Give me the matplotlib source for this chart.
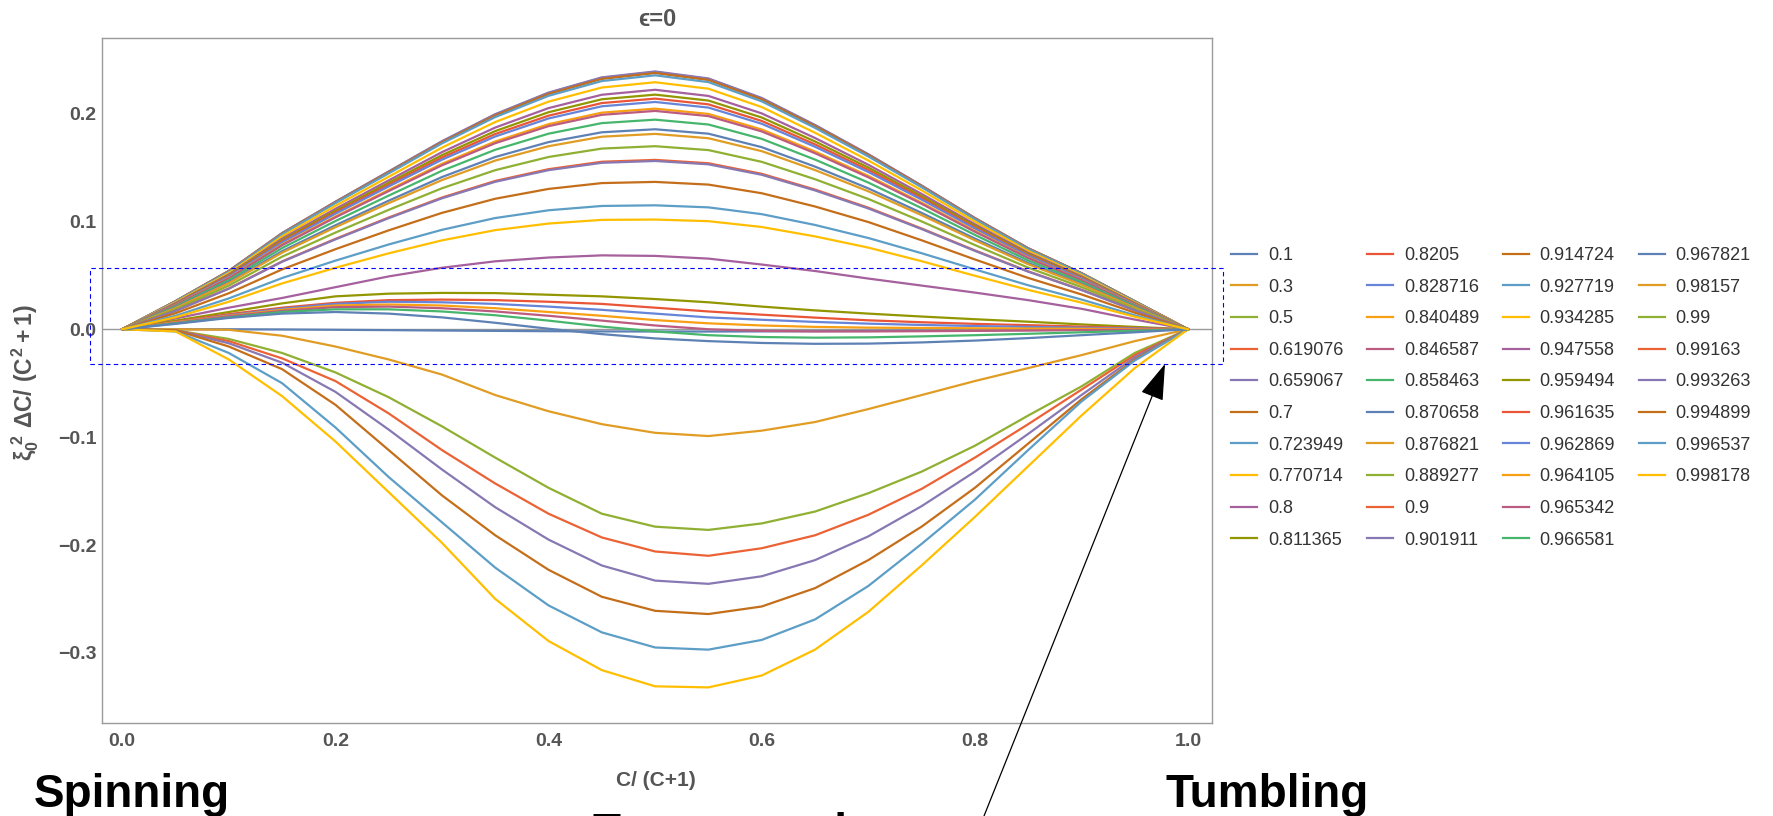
import matplotlib
matplotlib.use("Agg")
import matplotlib.pyplot as plt
from matplotlib.patches import Rectangle, FancyArrowPatch
from matplotlib.lines import Line2D

plt.rcParams['font.family'] = ['Liberation Sans', 'DejaVu Sans']
plt.rcParams['mathtext.fontset'] = 'custom'
plt.rcParams['mathtext.rm'] = 'Liberation Sans:bold'
plt.rcParams['mathtext.it'] = 'Liberation Sans:bold'
plt.rcParams['mathtext.bf'] = 'Liberation Sans:bold'

# eixo x: C/(C+1)
xs = [0.0, 0.05, 0.1, 0.15, 0.2, 0.25, 0.3, 0.35, 0.4, 0.45, 0.5,
      0.55, 0.6, 0.65, 0.7, 0.75, 0.8, 0.85, 0.9, 0.95, 1.0]

params = ["0.1", "0.3", "0.5", "0.619076", "0.659067", "0.7", "0.723949", "0.770714", "0.8", "0.811365",
          "0.8205", "0.828716", "0.840489", "0.846587", "0.858463", "0.870658", "0.876821", "0.889277", "0.9", "0.901911",
          "0.914724", "0.927719", "0.934285", "0.947558", "0.959494", "0.961635", "0.962869", "0.964105", "0.965342", "0.966581",
          "0.967821", "0.98157", "0.99", "0.99163", "0.993263", "0.994899", "0.996537", "0.998178"]

# curvas negativas (0.1 ... 0.770714)
y_neg = [
    [0, 0, 0, -0.0002, -0.0005, -0.0008, -0.0012, -0.0015, -0.0018, -0.002, -0.0021, -0.0021, -0.002, -0.0018, -0.0016, -0.0013, -0.001, -0.0008, -0.0005, -0.0002, 0],
    [0, 0, -0.0005, -0.006, -0.016, -0.028, -0.042, -0.061, -0.076, -0.088, -0.096, -0.099, -0.094, -0.086, -0.074, -0.061, -0.048, -0.036, -0.024, -0.011, 0],
    [0, -0.001, -0.009, -0.022, -0.040, -0.063, -0.090, -0.119, -0.147, -0.171, -0.183, -0.186, -0.180, -0.169, -0.152, -0.132, -0.108, -0.080, -0.053, -0.022, 0],
    [0, -0.001, -0.011, -0.027, -0.048, -0.078, -0.112, -0.143, -0.171, -0.193, -0.206, -0.210, -0.203, -0.191, -0.172, -0.148, -0.119, -0.088, -0.056, -0.024, 0],
    [0, -0.001, -0.013, -0.031, -0.058, -0.093, -0.130, -0.165, -0.195, -0.219, -0.233, -0.236, -0.229, -0.214, -0.192, -0.164, -0.132, -0.097, -0.061, -0.026, 0],
    [0, -0.001, -0.016, -0.037, -0.070, -0.112, -0.154, -0.191, -0.223, -0.248, -0.261, -0.264, -0.257, -0.240, -0.214, -0.183, -0.147, -0.106, -0.065, -0.028, 0],
    [0, -0.002, -0.022, -0.050, -0.091, -0.137, -0.179, -0.221, -0.256, -0.281, -0.295, -0.297, -0.288, -0.269, -0.238, -0.199, -0.158, -0.112, -0.067, -0.029, 0],
    [0, -0.002, -0.028, -0.062, -0.104, -0.151, -0.198, -0.250, -0.289, -0.316, -0.331, -0.332, -0.321, -0.297, -0.262, -0.219, -0.174, -0.127, -0.080, -0.036, 0],
]

# curvas perto de zero (0.8 ... 0.870658)
y_mid = [
    [0, 0.010, 0.020, 0.029, 0.039, 0.049, 0.057, 0.063, 0.0665, 0.0685, 0.068, 0.0655, 0.060, 0.054, 0.047, 0.0405, 0.034, 0.027, 0.019, 0.009, 0],
    [0, 0.008, 0.016, 0.024, 0.0305, 0.033, 0.0337, 0.0335, 0.032, 0.0305, 0.028, 0.025, 0.021, 0.0175, 0.0145, 0.0118, 0.0093, 0.007, 0.0045, 0.0022, 0],
    [0, 0.007, 0.014, 0.020, 0.0245, 0.027, 0.0275, 0.027, 0.0255, 0.0235, 0.020, 0.0165, 0.0135, 0.0108, 0.0083, 0.0065, 0.0050, 0.0038, 0.0025, 0.0012, 0],
    [0, 0.0065, 0.013, 0.019, 0.0235, 0.0255, 0.025, 0.0235, 0.021, 0.018, 0.0145, 0.011, 0.0088, 0.0068, 0.0052, 0.0040, 0.0030, 0.0022, 0.0014, 0.0007, 0],
    [0, 0.0065, 0.0125, 0.018, 0.022, 0.023, 0.022, 0.0195, 0.016, 0.0125, 0.0085, 0.0055, 0.0035, 0.0022, 0.0015, 0.0012, 0.0009, 0.0007, 0.0005, 0.0002, 0],
    [0, 0.006, 0.012, 0.017, 0.0205, 0.021, 0.0195, 0.0165, 0.0125, 0.008, 0.0035, 0.0, -0.0015, -0.002, -0.002, -0.0018, -0.0015, -0.0012, -0.0008, -0.0004, 0],
    [0, 0.0055, 0.011, 0.016, 0.0185, 0.0185, 0.0165, 0.013, 0.008, 0.0025, -0.002, -0.0055, -0.0072, -0.0078, -0.0075, -0.0066, -0.0055, -0.0042, -0.0028, -0.0014, 0],
    [0, 0.005, 0.0105, 0.0145, 0.016, 0.0145, 0.011, 0.006, 0.0005, -0.0045, -0.0085, -0.011, -0.0127, -0.0135, -0.0133, -0.0122, -0.0105, -0.0082, -0.0055, -0.0028, 0],
]

# curvas positivas (0.876821 ... 0.998178)
y_pos = [
    [0, .0259, .0539, .0888, .1178, .1457, .1737, .1986, .2186, .2325, .2380, .2315, .2136, .1886, .1617, .1327, .1028, .0749, .0519, .0259, 0],
    [0, .0260, .0539, .0889, .1179, .1459, .1738, .1988, .2188, .2328, .2383, .2318, .2138, .1888, .1618, .1329, .1029, .0749, .0519, .0260, 0],
    [0, .0260, .0540, .0890, .1180, .1460, .1740, .1990, .2190, .2330, .2385, .2320, .2140, .1890, .1620, .1330, .1030, .0750, .0520, .0260, 0],
    [0, .0261, .0541, .0892, .1182, .1463, .1743, .1994, .2194, .2335, .2390, .2325, .2144, .1894, .1623, .1333, .1032, .0752, .0521, .0261, 0],
    [0, .0259, .0538, .0886, .1175, .1454, .1733, .1982, .2181, .2321, .2375, .2311, .2131, .1882, .1614, .1325, .1026, .0747, .0518, .0259, 0],
    [0, .0257, .0533, .0880, .1169, .1445, .1723, .1967, .2164, .2301, .2354, .2291, .2113, .1867, .1602, .1317, .1020, .0742, .0515, .0257, 0],
    [0, .0250, .0521, .0861, .1144, .1414, .1684, .1921, .2110, .2241, .2290, .2230, .2060, .1822, .1565, .1288, .0998, .0726, .0503, .0250, 0],
    [0, .0242, .0508, .0840, .1116, .1380, .1642, .1870, .2050, .2174, .2220, .2163, .2001, .1773, .1525, .1255, .0974, .0709, .0491, .0243, 0],
    [0, .0237, .0500, .0826, .1098, .1358, .1614, .1837, .2012, .2132, .2175, .2120, .1963, .1741, .1499, .1234, .0958, .0698, .0482, .0239, 0],
    [0, .0233, .0493, .0815, .1083, .1339, .1592, .1810, .1980, .2097, .2138, .2085, .1931, .1714, .1477, .1217, .0945, .0689, .0476, .0235, 0],
    [0, .0230, .0487, .0805, .1071, .1324, .1572, .1787, .1954, .2067, .2107, .2055, .1905, .1692, .1458, .1202, .0934, .0681, .0470, .0232, 0],
    [0, .0223, .0475, .0786, .1045, .1292, .1534, .1741, .1901, .2008, .2045, .1996, .1852, .1648, .1422, .1173, .0912, .0665, .0458, .0225, 0],
    [0, .0221, .0471, .0779, .1037, .1281, .1520, .1725, .1883, .1988, .2024, .1976, .1834, .1632, .1409, .1163, .0904, .0660, .0455, .0223, 0],
    [0, .0212, .0455, .0753, .1003, .1239, .1469, .1664, .1813, .1911, .1943, .1898, .1765, .1573, .1360, .1123, .0875, .0638, .0439, .0215, 0],
    [0, .0202, .0437, .0724, .0964, .1192, .1411, .1597, .1735, .1826, .1854, .1813, .1688, .1508, .1306, .1079, .0841, .0615, .0422, .0206, 0],
    [0, .0197, .0428, .0710, .0946, .1169, .1383, .1564, .1697, .1785, .1811, .1771, .1651, .1476, .1279, .1058, .0825, .0603, .0414, .0201, 0],
    [0, .0185, .0405, .0673, .0896, .1107, .1307, .1475, .1597, .1675, .1697, .1661, .1552, .1391, .1208, .1000, .0781, .0571, .0391, .0189, 0],
    [0, .0171, .0378, .0629, .0838, .1036, .1221, .1375, .1484, .1553, .1570, .1539, .1441, .1295, .1127, .0934, .0731, .0537, .0366, .0176, 0],
    [0, .0170, .0376, .0626, .0833, .1030, .1214, .1367, .1475, .1543, .1560, .1529, .1432, .1287, .1120, .0929, .0727, .0534, .0364, .0175, 0],
    [0, .0149, .0334, .0555, .0742, .0917, .1079, .1210, .1301, .1355, .1366, .1341, .1261, .1138, .0994, .0825, .0647, .0476, .0323, .0154, 0],
    [0, .0125, .0286, .0475, .0636, .0786, .0922, .1031, .1103, .1143, .1149, .1130, .1067, .0967, .0846, .0705, .0555, .0408, .0276, .0130, 0],
    [0, .0111, .0255, .0425, .0570, .0704, .0824, .0919, .0980, .1014, .1017, .1002, .0948, .0861, .0757, .0631, .0496, .0365, .0247, .0116, 0],
]

# cores padrao do Mathematica (ColorData[97])
cores = ['#5E81B5', '#E19C24', '#8FB032', '#EB6235', '#8778B3', '#C56E1A', '#5D9EC7', '#FFBF00',
         '#A5609D', '#929600', '#E95536', '#6685D9', '#F89F13', '#BC5B80', '#47B66D']

xticks = [0.0, 0.2, 0.4, 0.6, 0.8, 1.0]
xtick_labels = ['0.0', '0.2', '0.4', '0.6', '0.8', '1.0']
yticks = [-0.3, -0.2, -0.1, 0.0, 0.1, 0.2]
ytick_labels = ['\u22120.3', '\u22120.2', '\u22120.1', '0.0', '0.1', '0.2']

W, H = 1774, 816
fig = plt.figure(figsize=(W / 100, H / 100), dpi=100)
ax = fig.add_axes([102 / W, 1 - 723 / H, 1110 / W, 685 / H])

curvas = y_neg + y_mid + y_pos
linhas = []
for i, ys in enumerate(curvas):
    l, = ax.plot(xs, ys, color=cores[i % 15], lw=1.6, solid_joinstyle='round', zorder=2)
    linhas.append(l)

ax.axhline(0, color='#999999', lw=1.0, zorder=1.5)

ax.set_xlim(-0.019, 1.0225)
ax.set_ylim(-0.365, 0.270)
ax.set_xticks(xticks, xtick_labels)
ax.set_yticks(yticks, ytick_labels)
ax.tick_params(length=0, labelsize=14, labelcolor='#555555')
ax.tick_params(axis='x', pad=7)
ax.tick_params(axis='y', pad=4)
for lab in ax.get_xticklabels() + ax.get_yticklabels():
    lab.set_fontweight('bold')
for s in ax.spines.values():
    s.set_color('#9a9a9a')
    s.set_linewidth(1.0)

# textos
fig.text(657 / W, 1 - 20 / H, '\u03f5=0', ha='center', va='center', fontsize=17,
         fontweight='bold', color='#555555')
fig.text(656 / W, 1 - 780 / H, 'C/ (C+1)', ha='center', va='center', fontsize=15,
         fontweight='bold', color='#555555')
fig.text(25 / W, 1 - 382 / H, r'$\xi_0^{\ 2}\ \Delta C/\ (C^2+1)$', ha='center', va='center',
         rotation=90, fontsize=16.5, color='#555555')

# legenda: 10 linhas x 4 colunas (duas entradas vazias no fim)
vazio = [Line2D([], [], color='none'), Line2D([], [], color='none')]
fig.legend(linhas + vazio, params + ['', ''], ncol=4, loc='upper left',
           bbox_to_anchor=(1231 / W, 1 - 247 / H),
           frameon=False, fontsize=13, handlelength=1.45, handletextpad=0.6,
           columnspacing=1.3, labelspacing=0.81, borderpad=0, borderaxespad=0,
           labelcolor='#333333')

fig.text(34 / W, 1 - 807 / H, 'Spinning', ha='left', va='baseline', fontsize=33, fontweight='bold')
fig.text(1165 / W, 1 - 807 / H, 'Tumbling', ha='left', va='baseline', fontsize=33, fontweight='bold')
# texto cortado na borda de baixo, como no original
fig.text(593 / W, 1 - 846 / H, 'Transversal', ha='left', va='baseline', fontsize=33, fontweight='bold')

# caixa tracejada
caixa = Rectangle((90.5 / W, 1 - 364 / H), 1132.5 / W, 96 / H, transform=fig.transFigure,
                  fill=False, edgecolor='#0000ff', lw=0.8, linestyle=(0, (4, 3)))
fig.add_artist(caixa)

# seta
seta = FancyArrowPatch((984 / W, 0.0), (1165 / W, 1 - 364 / H), transform=fig.transFigure,
                       arrowstyle='-|>,head_length=2.3,head_width=0.75', mutation_scale=10,
                       color='black', lw=0.9, shrinkA=0, shrinkB=0)
fig.add_artist(seta)

fig.savefig('out.png', dpi=100)
